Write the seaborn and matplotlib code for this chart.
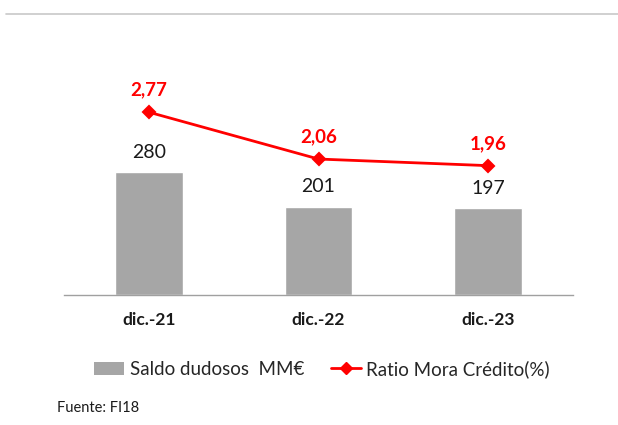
import seaborn as sns
import matplotlib.pyplot as plt
from matplotlib.lines import Line2D
from matplotlib.patches import Patch

# data
periodos = ['dic.-21', 'dic.-22', 'dic.-23']
saldo_dudosos = [280, 201, 197]
ratio_mora = [2.77, 2.06, 1.96]

gris = '#A6A6A6'
rojo = '#FF0000'

sns.set_theme(style='white')
plt.rcParams['font.family'] = ['Lato', 'DejaVu Sans']

fig = plt.figure(figsize=(6.18, 4.25), dpi=100)
ax = fig.add_axes([64 / 618, 1 - 295 / 425, (573 - 64) / 618, (295 - 31) / 425])

# bars
sns.barplot(x=periodos, y=saldo_dudosos, color=gris, width=0.4, saturation=1, ax=ax)
ax.bar_label(ax.containers[0], labels=[str(v) for v in saldo_dudosos],
             padding=8, fontsize=14, color='#1a1a1a')
ax.set_ylim(0, 600)

# line on secondary axis
ax2 = ax.twinx()
sns.pointplot(x=periodos, y=ratio_mora, color=rojo, markers='D',
              linewidth=2, markersize=6, ax=ax2)
for i, v in enumerate(ratio_mora):
    ax2.annotate(f'{v:.2f}'.replace('.', ','), xy=(i, v), xytext=(0, 10),
                 textcoords='offset points', ha='center', va='bottom',
                 color=rojo, fontsize=13.5, fontweight='bold')
ax2.set_ylim(0, 4)
ax.set_xlim(-0.5, 2.5)
ax2.set_xlim(-0.5, 2.5)

for a in (ax, ax2):
    for s in ['top', 'left', 'right']:
        a.spines[s].set_visible(False)
    a.spines['bottom'].set_color('#A0A0A0')
    a.spines['bottom'].set_linewidth(1)
    a.set_yticks([])
    a.set_ylabel('')
    a.set_xlabel('')
ax2.spines['bottom'].set_visible(False)

ax.tick_params(axis='x', which='major', length=0, pad=12, labelsize=12.5)
for lbl in ax.get_xticklabels():
    lbl.set_fontweight('bold')
    lbl.set_color('#1a1a1a')
ax.set_xticks([-0.5, 0.5, 1.5, 2.5], minor=True)
ax.tick_params(axis='x', which='minor', length=5, color='#A0A0A0', width=1, direction='out')
ax2.tick_params(axis='x', length=0, labelbottom=False)

# top rule
fig.add_artist(Line2D([6 / 618, 1], [1 - 13.5 / 425] * 2, color='#C8C8C8', lw=1.2))

# legend
handles = [Patch(facecolor=gris, edgecolor='none'),
           Line2D([], [], color=rojo, lw=2, marker='D', markersize=6)]
fig.legend(handles, ['Saldo dudosos  MM€', 'Ratio Mora Crédito(%)'],
           loc='center', bbox_to_anchor=(322 / 618, 1 - 369 / 425), ncol=2,
           frameon=False, fontsize=13.5, handlelength=1.6, handletextpad=0.3,
           columnspacing=1.4)

fig.text(57 / 618, 1 - 408 / 425, 'Fuente: FI18', fontsize=10.5, va='center', color='#1a1a1a')

fig.savefig('out.png', dpi=100)
